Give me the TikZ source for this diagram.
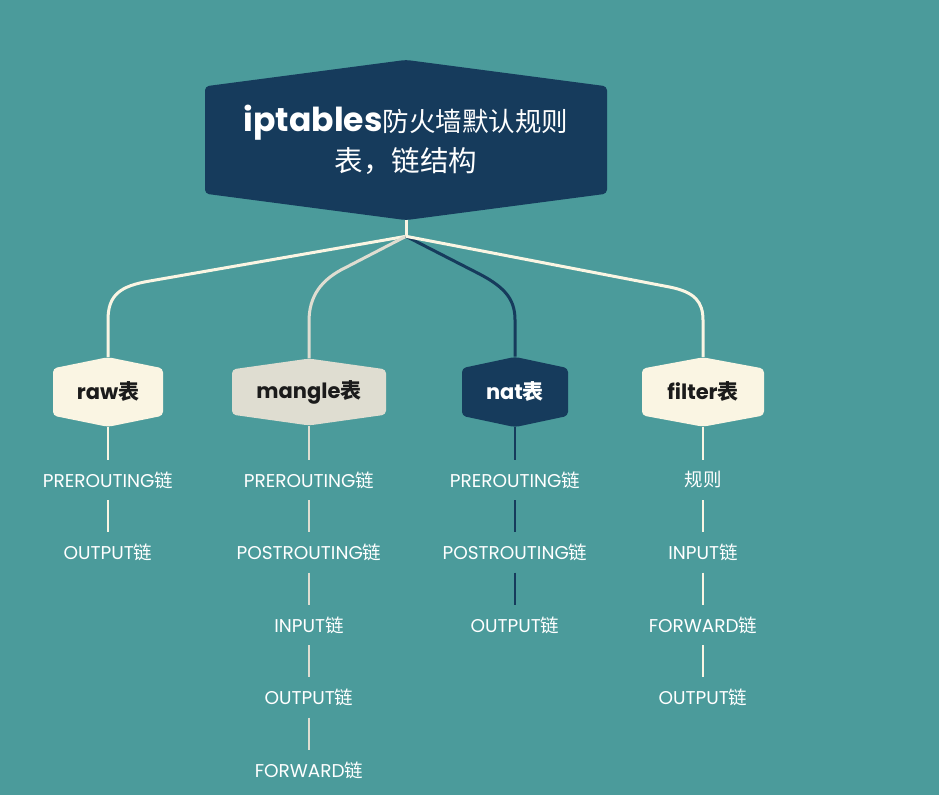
\documentclass[tikz,border=0pt]{standalone}
\usepackage{fontspec}
\setmainfont{Poppins}
\newfontfamily\cjk{Noto Sans CJK SC}
\usetikzlibrary{shapes.symbols,calc}
\definecolor{bgteal}{HTML}{4B9B9B}
\definecolor{navy}{HTML}{163B5C}
\definecolor{cream}{HTML}{FAF5E3}
\definecolor{stone}{HTML}{DFDDD1}
\definecolor{ink}{HTML}{1B1B1B}
\newcommand\lian{{\cjk 链}}
\tikzset{
  hexbox/.style={shape=signal, signal to=north and south, rounded corners=4pt, align=center, inner sep=0pt},
  tablebox/.style={hexbox, minimum height=60pt, text=ink, font=\fontsize{21}{24}\selectfont\bfseries},
  chainlabel/.style={minimum height=40pt, inner sep=0pt, text=white, font=\fontsize{18.5}{20}\selectfont},
  branch/.style={line width=3pt},
  chainline/.style={line width=2pt},
}
\begin{document}
\begin{tikzpicture}[x=1pt,y=-1pt]
  % background
  \fill[bgteal] (0,0) rectangle (939,795);
  % root
  \node[hexbox, fill=navy, text=white, minimum width=402pt, minimum height=150pt,
    signal pointer angle=165, font=\fontsize{26.5}{40}\selectfont]
    (root) at (406,140) {{\fontsize{33}{40}\selectfont\bfseries iptables}{\cjk 防火墙默认规则}\\{\cjk\fontsize{28.5}{40}\selectfont 表，链结构}};
  % tables
  \node[tablebox, fill=cream, minimum width=110pt, signal pointer angle=157] (raw) at (108,392) {raw{\cjk 表}};
  \node[tablebox, fill=stone, minimum width=154pt, signal pointer angle=164] (mangle) at (309,392) {mangle{\cjk 表}};
  \node[tablebox, fill=navy, text=white, minimum width=106pt, signal pointer angle=156] (nat) at (515,392) {nat{\cjk 表}};
  \node[tablebox, fill=cream, minimum width=122pt, signal pointer angle=159] (filter) at (703,392) {filter{\cjk 表}};
  % branches
  \coordinate (hub) at ($(root.south)+(0,16)$);
  \draw[branch,cream] (root.south) -- (hub);
  \draw[branch,cream] (hub) -- ($(raw.north)+(42,-76)$)
    .. controls ($(raw.north)+(12,-71)$) and ($(raw.north)+(0,-62)$) .. ($(raw.north)+(0,-37)$) -- (raw.north);
  \draw[branch,stone] (hub) -- ($(mangle.north)+(37,-91)$)
    .. controls ($(mangle.north)+(12,-79)$) and ($(mangle.north)+(0,-62)$) .. ($(mangle.north)+(0,-37)$) -- (mangle.north);
  \draw[branch,navy] (hub) -- ($(nat.north)+(-40,-85)$)
    .. controls ($(nat.north)+(-12,-71)$) and ($(nat.north)+(0,-59)$) .. ($(nat.north)+(0,-37)$) -- (nat.north);
  \draw[branch,cream] (hub) -- ($(filter.north)+(-33,-70)$)
    .. controls ($(filter.north)+(-8,-65)$) and ($(filter.north)+(0,-55)$) .. ($(filter.north)+(0,-37)$) -- (filter.north);
  % chains
  \foreach \tbl/\col/\chains in {raw/cream/{PREROUTING\lian,OUTPUT\lian},
      mangle/stone/{PREROUTING\lian,POSTROUTING\lian,INPUT\lian,OUTPUT\lian,FORWARD\lian},
      nat/navy/{PREROUTING\lian,POSTROUTING\lian,OUTPUT\lian},
      filter/cream/{{\cjk 规则},INPUT\lian,FORWARD\lian,OUTPUT\lian}}{
    \foreach \chain [count=\i, remember=\i as \prev (initially 0)] in \chains {
      \node[chainlabel] (\tbl-\i) at ($(\tbl)+(0,88+72.5*\i-72.5)$) {\chain};
      \ifnum\i=1
        \draw[chainline,\col] (\tbl.south) -- (\tbl-1.north);
      \else
        \draw[chainline,\col] (\tbl-\prev.south) -- (\tbl-\i.north);
      \fi
    }
  }
\end{tikzpicture}
\end{document}
